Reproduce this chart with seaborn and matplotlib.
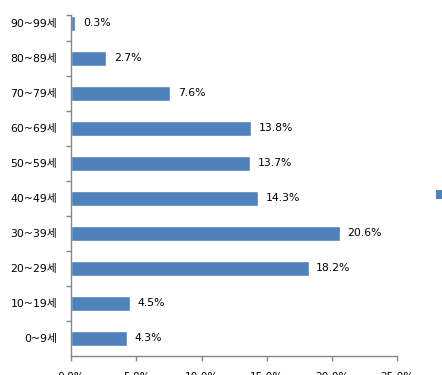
import matplotlib
matplotlib.use("Agg")
import matplotlib.pyplot as plt
from matplotlib.patches import Patch
import seaborn as sns
import pandas as pd

# data ---------------------------------------------------------------
age_groups = ["90~99세", "80~89세", "70~79세", "60~69세", "50~59세",
              "40~49세", "30~39세", "20~29세", "10~19세", "0~9세"]
share_pct = [0.3, 2.7, 7.6, 13.8, 13.7, 14.3, 20.6, 18.2, 4.5, 4.3]
x_ticks = [0, 5, 10, 15, 20, 25]
x_ticklabels = ["0.0%", "5.0%", "10.0%", "15.0%", "20.0%", "25.0%"]
series_name = "비율"

df = pd.DataFrame({"age": age_groups, "pct": share_pct})

sns.set_style("white")
# DejaVu for digits, Noto CJK picks up the Hangul
plt.rcParams["font.family"] = ["DejaVu Sans", "Noto Sans CJK KR"]

bar_color = "#4F81BD"
axis_gray = "#868686"

fig = plt.figure(figsize=(4.42, 3.75), dpi=100)
ax = fig.add_axes([71.2 / 442, 19 / 375, (397.3 - 71.2) / 442, (356 - 14.5) / 375])

sns.barplot(data=df, x="pct", y="age", order=age_groups, color=bar_color,
            width=0.42, saturation=1, ax=ax)

ax.bar_label(ax.containers[0], fmt="%.1f%%", padding=5.5, fontsize=7.8, color="black")

y_top = -0.257  # top category is cut short, like in the original
ax.set_xlim(0, 25)
ax.set_ylim(9.5, y_top)
ax.set_xticks(x_ticks)
ax.set_xticklabels(x_ticklabels)
ax.set_yticks([y_top] + [i - 0.5 for i in range(1, len(age_groups))], minor=True)
ax.set_xlabel("")
ax.set_ylabel("")

for s in ["top", "right"]:
    ax.spines[s].set_visible(False)
for s in ["left", "bottom"]:
    ax.spines[s].set_color(axis_gray)
    ax.spines[s].set_linewidth(1)

ax.tick_params(axis="y", which="major", left=False, length=0, pad=10,
               labelsize=7.8, labelcolor="black")
ax.tick_params(axis="y", which="minor", left=True, length=3.6, width=1,
               color=axis_gray, direction="out")
ax.tick_params(axis="x", bottom=True, length=3.6, width=1, color=axis_gray,
               direction="out", pad=8, labelsize=7.6, labelcolor="black")

# legend, mostly cut off at the right edge
handle = Patch(facecolor=bar_color, edgecolor="none")
fig.legend([handle], [series_name], loc="center left",
           bbox_to_anchor=(436 / 442, 1 - 195.5 / 375), frameon=False,
           borderpad=0, borderaxespad=0, handlelength=0.8, handleheight=0.8,
           handletextpad=0.8, fontsize=8)

fig.savefig("out.png", dpi=100)
plt.close("all")
